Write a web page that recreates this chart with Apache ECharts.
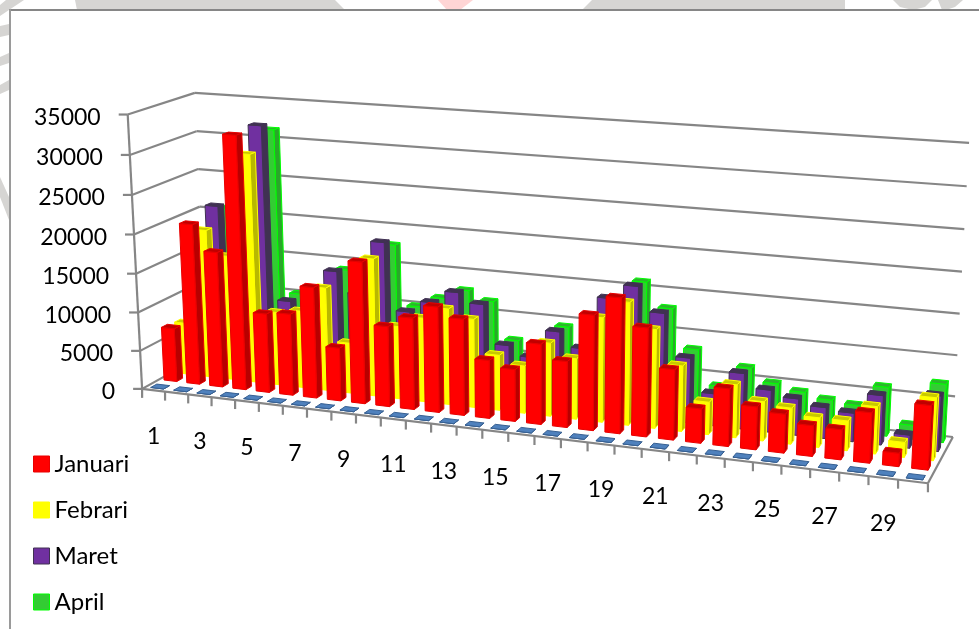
<!DOCTYPE html>
<html>
<head>
<meta charset="utf-8">
<style>html,body{margin:0;padding:0;background:#fff}#chart{width:979px;height:629px}</style>
<script src="https://cdn.jsdelivr.net/npm/echarts@6/dist/echarts.min.js"></script>
</head>
<body>
<div id="chart"></div>
<script>
// Monthly values per day-of-month category
const categories = ['1','2','3','4','5','6','7','8','9','10','11','12','13','14','15','16','17','18','19','20','21','22','23','24','25','26','27','28','29','30'];
const yTicks = [0,5000,10000,15000,20000,25000,30000,35000];
const januari = [7000,20800,17500,32500,10200,10500,14200,6800,18000,10200,11600,13300,12100,7300,6500,10000,8200,14200,16600,13300,8600,4200,7000,5200,4700,3700,3600,6000,1600,7600];
const febrari = [6800,19300,16200,29500,9500,10000,13300,6500,17600,9300,10700,12200,11200,7000,6000,9200,7600,13000,15200,12200,8100,4000,6500,4800,4400,3600,3600,5700,1800,7500];
const maret   = [6000,21700,15000,32500,10100,9500,14600,12000,18900,10300,11800,13400,12200,7300,6100,9700,7900,14500,16300,13300,8100,4000,6900,5200,4500,3800,3500,6000,1600,6700];
const april   = [5800,20700,14000,31400,10200,9000,14000,11500,17800,10100,11500,12800,11700,7000,5800,9400,7500,13000,16000,13000,8200,3900,6600,5000,4300,3700,3400,6000,1700,7100];
const kosong  = [0,0,0,0,0,0,0,0,0,0,0,0,0,0,0,0,0,0,0,0,0,0,0,0,0,0,0,0,0,0];

// Perspective of the box: [along categories, depth, height] -> screen point
const viewAnchors = [
  [0,0,0,142,389],[1,0,0,928,483],[1,1,0,953,437],[0,1,0,206,353],
  [0,0,1,127,114],[0,1,1,195,93],[1,1,1,969,143],[0.5,0,0,508,433],[0,0,4/7,135,235]
];

function solveLinear(M, r) {
  const n = r.length;
  for (let c = 0; c < n; c++) {
    let p = c;
    for (let i = c + 1; i < n; i++) if (Math.abs(M[i][c]) > Math.abs(M[p][c])) p = i;
    [M[c], M[p]] = [M[p], M[c]]; [r[c], r[p]] = [r[p], r[c]];
    for (let i = c + 1; i < n; i++) {
      const f = M[i][c] / M[c][c];
      for (let j = c; j < n; j++) M[i][j] -= f * M[c][j];
      r[i] -= f * r[c];
    }
  }
  const s = new Array(n).fill(0);
  for (let i = n - 1; i >= 0; i--) {
    let t = r[i];
    for (let j = i + 1; j < n; j++) t -= M[i][j] * s[j];
    s[i] = t / M[i][i];
  }
  return s;
}

// Least-squares fit of the 11 camera terms, screen units scaled down for conditioning
const cam = (function () {
  const rows = [], rhs = [];
  viewAnchors.forEach(([u, v, w, x, y]) => {
    const X = x / 1000, Y = y / 1000;
    rows.push([u, v, w, 1, 0, 0, 0, 0, -X * u, -X * v, -X * w]); rhs.push(X);
    rows.push([0, 0, 0, 0, u, v, w, 1, -Y * u, -Y * v, -Y * w]); rhs.push(Y);
  });
  const N = [], b = [];
  for (let i = 0; i < 11; i++) {
    N.push(new Array(11).fill(0)); b.push(0);
    rows.forEach((row, k) => {
      for (let j = 0; j < 11; j++) N[i][j] += row[i] * row[j];
      b[i] += row[i] * rhs[k];
    });
  }
  return solveLinear(N, b);
})();

function project(u, v, w) {
  const d = cam[8] * u + cam[9] * v + cam[10] * w + 1;
  return [
    1000 * (cam[0] * u + cam[1] * v + cam[2] * w + cam[3]) / d,
    1000 * (cam[4] * u + cam[5] * v + cam[6] * w + cam[7]) / d
  ];
}

const LINE = '#868686';
const FONT = 'Lato';
const FONT_SIZE = 23;
const LEGEND_FONT_SIZE = 24;
const BAR_WIDTH = 0.56;   // share of a category
const BAR_START = 0.27;   // where a bar's front sits inside its row
const BAR_DEPTH = 0.45;   // share of a row
const ROW_DEPTH = 0.2;    // five rows stand one behind the other

function toUnit(params, pt) {
  const cs = params.coordSys;
  return [(pt[0] - cs.x) / cs.width, (cs.y + cs.height - pt[1]) / cs.height];
}
function seg(a, b, color, width) {
  return { type: 'line', shape: { x1: a[0], y1: a[1], x2: b[0], y2: b[1] },
    style: { stroke: color || LINE, lineWidth: width || 2.2 }, silent: true };
}
function poly(points, fill, stroke) {
  return { type: 'polygon', shape: { points: points },
    style: { fill: fill, stroke: stroke, lineWidth: 1, lineJoin: 'round' }, silent: true };
}

function barSeries(name, values, row, look) {
  return {
    type: 'custom', name: name, coordinateSystem: 'cartesian2d', clip: false, silent: true,
    data: values.map((val, i) => [i, val]),
    encode: { x: 0, y: 1 },
    itemStyle: { color: look.front, borderColor: look.edge },
    renderItem(params, api) {
      const [uc, w] = toUnit(params, api.coord([api.value(0), api.value(1)]));
      const half = api.size([1, 0])[0] / params.coordSys.width * BAR_WIDTH / 2;
      const v0 = (row + BAR_START) * ROW_DEPTH;
      const v1 = (row + BAR_START + BAR_DEPTH) * ROW_DEPTH;
      const u0 = uc - half, u1 = uc + half;
      const fb0 = project(u0, v0, 0), fb1 = project(u1, v0, 0), bb1 = project(u1, v1, 0);
      const ft0 = project(u0, v0, w), ft1 = project(u1, v0, w), bt1 = project(u1, v1, w), bt0 = project(u0, v1, w);
      return { type: 'group', children: [
        poly([fb1, bb1, bt1, ft1], look.side, look.edge),
        poly([fb0, fb1, ft1, ft0], look.front, look.edge),
        poly([ft0, ft1, bt1, bt0], look.top, look.edge)
      ] };
    }
  };
}

// Gridlines on the side and back walls, value ticks and labels
const wallSeries = {
  type: 'custom', name: 'dinding', coordinateSystem: 'cartesian2d', clip: false, silent: true, z: 1,
  data: yTicks.map(t => [0, t]),
  encode: { x: 0, y: 1 },
  renderItem(params, api) {
    const tick = api.value(1);
    const [, w] = toUnit(params, api.coord([0, tick]));
    const a = project(0, 0, w), b = project(0, 1, w), c = project(1, 1, w);
    const kids = [seg(a, b), seg(b, c), seg(a, [a[0] - 9, a[1]]), {
      type: 'text', silent: true,
      style: { text: String(tick), x: a[0] - 27, y: a[1] + 3, align: 'right', verticalAlign: 'middle',
        fill: '#000', font: FONT_SIZE + 'px ' + FONT }
    }];
    if (params.dataIndex === 0) {
      kids.push(seg(project(0, 0, 0), project(0, 0, 1)));
      kids.push(seg(project(0, 0, 0), project(1, 0, 0)));
      kids.push(seg(project(1, 0, 0), project(1, 1, 0)));
    }
    return { type: 'group', children: kids };
  }
};

// Category ticks along the front edge, with every other label
const floorSeries = {
  type: 'custom', name: 'lantai', coordinateSystem: 'cartesian2d', clip: false, silent: true, z: 1,
  data: categories.map((c, i) => [i, 0]),
  encode: { x: 0, y: 1 },
  renderItem(params, api) {
    const i = api.value(0);
    const [uc] = toUnit(params, api.coord([i, 0]));
    const half = api.size([1, 0])[0] / params.coordSys.width / 2;
    const t0 = project(uc - half, 0, 0);
    const kids = [seg(t0, [t0[0], t0[1] + 9])];
    if (i === categories.length - 1) {
      const t1 = project(uc + half, 0, 0);
      kids.push(seg(t1, [t1[0], t1[1] + 9]));
    }
    if (i % 2 === 0) {
      const p = project(uc, 0, 0);
      kids.push({ type: 'text', silent: true,
        style: { text: categories[i], x: p[0], y: p[1] + 46, align: 'center', verticalAlign: 'middle',
          fill: '#000', font: FONT_SIZE + 'px ' + FONT } });
    }
    return { type: 'group', children: kids };
  }
};

const looks = {
  januari: { front: '#ff0000', side: '#b80000', top: '#c00000', edge: '#e80000' },
  febrari: { front: '#ffff00', side: '#b8b800', top: '#c8c800', edge: '#ffff00' },
  maret:   { front: '#7030a0', side: '#403152', top: '#403152', edge: '#403152' },
  april:   { front: '#33cc33', side: '#2aa62a', top: '#2db52d', edge: '#00ff00' },
  kosong:  { front: '#4f81bd', side: '#376092', top: '#4f81bd', edge: '#376092' }
};

function swatch(name, look) {
  return { name: name, icon: 'rect',
    itemStyle: { color: look.front, borderColor: look.edge, borderWidth: 1 } };
}

// Scraps of the page artwork that show around the chart frame
const pageShapes = [
  ['#d6d5d3', [[0,5],[6,0],[24,0],[0,16]]],
  ['#d6d5d3', [[75,0],[335,0],[345,10],[77,10]]],
  ['#ffd5d5', [[438,0],[473,0],[460,10],[447,10]]],
  ['#d6d5d3', [[592,0],[845,0],[845,10],[582,10]]],
  ['#d6d5d3', [[893,0],[932,0],[925,7],[913,10],[900,7]]],
  ['#d6d5d3', [[938,0],[963,0],[955,7],[946,10],[942,10]]],
  ['#d6d5d3', [[0,26],[9,24],[9,35],[0,37]]],
  ['#d6d5d3', [[0,57],[9,53],[9,63],[0,66]]],
  ['#d6d5d3', [[0,85],[9,80],[9,90],[0,94]]],
  ['#d6d5d3', [[0,177],[9,197],[9,220],[0,197]]]
];

const chart = echarts.init(document.getElementById('chart'), null, { renderer: 'canvas' });
chart.setOption({
  animation: false,
  backgroundColor: '#fff',
  tooltip: { show: false },
  graphic: pageShapes.map(([color, pts]) => ({ type: 'polygon', shape: { points: pts }, style: { fill: color }, silent: true }))
    .concat([
      { type: 'line', shape: { x1: 9, y1: 10, x2: 979, y2: 10 }, style: { stroke: LINE, lineWidth: 2 }, silent: true },
      { type: 'line', shape: { x1: 10, y1: 9, x2: 10, y2: 629 }, style: { stroke: '#9a9a9a', lineWidth: 2 }, silent: true }
    ]),
  grid: { left: 142, right: 50, top: 114, bottom: 146 },
  xAxis: { type: 'category', data: categories, show: false },
  yAxis: { type: 'value', min: 0, max: 35000, interval: 5000, show: false },
  legend: {
    orient: 'vertical', left: 28, top: 447, height: 178, itemWidth: 16, itemHeight: 16, itemGap: 22, selectedMode: false,
    textStyle: { fontFamily: FONT, fontSize: LEGEND_FONT_SIZE, color: '#000' },
    data: [swatch('Januari', looks.januari), swatch('Febrari', looks.febrari), swatch('Maret', looks.maret), swatch('April', looks.april)]
  },
  // Rows are painted from the back wall forward
  series: [
    wallSeries, floorSeries,
    Object.assign(barSeries('April', april, 4, looks.april), { z: 2 }),
    Object.assign(barSeries('Maret', maret, 3, looks.maret), { z: 3 }),
    Object.assign(barSeries('Febrari', febrari, 2, looks.febrari), { z: 4 }),
    Object.assign(barSeries('Januari', januari, 1, looks.januari), { z: 5 }),
    Object.assign(barSeries('Total', kosong, 0, looks.kosong), { z: 6 })
  ]
});
</script>
</body>
</html>
